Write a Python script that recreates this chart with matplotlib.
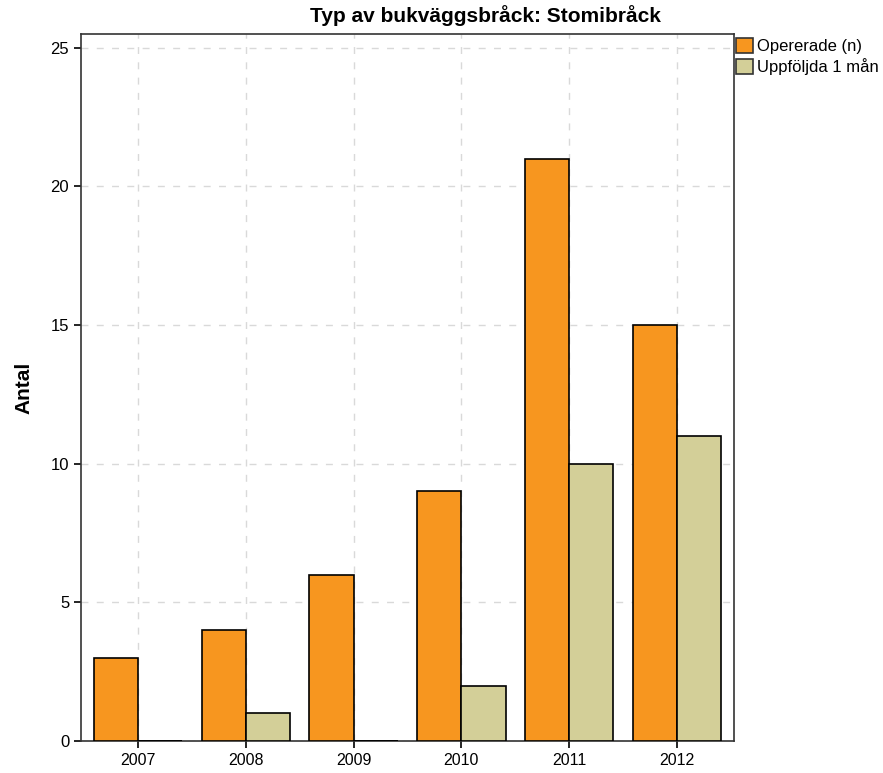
import matplotlib
matplotlib.use("Agg")
import matplotlib.pyplot as plt
import numpy as np
from matplotlib.patches import Patch

plt.rcParams['font.family'] = ['Liberation Sans', 'DejaVu Sans']

years = ['2007', '2008', '2009', '2010', '2011', '2012']
opererade = [3, 4, 6, 9, 21, 15]
uppfoljda = [0, 1, 0, 2, 10, 11]
series_names = ['Opererade (n)', 'Uppföljda 1 mån']
colors = ['#F7961F', '#D3CF98']
yticks = [0, 5, 10, 15, 20, 25]

fig = plt.figure(figsize=(8.83, 7.73), dpi=100)
ax = fig.add_axes([81/883, 1-741/773, (734-81)/883, (741-34)/773])

x = np.arange(len(years))
w = 0.41
ax.bar(x - w/2, opererade, width=w, color=colors[0], edgecolor='black', linewidth=1.2, zorder=3)
ax.bar(x + w/2, uppfoljda, width=w, color=colors[1], edgecolor='black', linewidth=1.2, zorder=3)
# zero-height bars show as a line
for xi, v in zip(x, uppfoljda):
    if v == 0:
        ax.plot([xi, xi + w], [0, 0], color='black', lw=1.2, zorder=4, solid_capstyle='butt')

ax.set_xlim(-0.53, len(years) - 1 + 0.53)
ax.set_ylim(0, 25.5)
ax.set_xticks(x)
ax.set_xticklabels(years, fontsize=11.5)
ax.set_yticks(yticks)
ax.set_yticklabels([str(t) for t in yticks], fontsize=12)
ax.tick_params(axis='both', direction='out', length=5, width=1.2, color='black')
ax.grid(True, color='#D9D9D9', linestyle=(0, (5, 6)), linewidth=1, zorder=0)
ax.set_axisbelow(True)
for s in ax.spines.values():
    s.set_linewidth(1.2)
    s.set_color('#333333')

ax.set_ylabel('Antal', fontsize=15, fontweight='bold', labelpad=12)
fig.text(485/883, 1-16/773, 'Typ av bukväggsbråck: Stomibråck', fontsize=15,
         fontweight='bold', ha='center', va='center')

handles = [Patch(facecolor=c, edgecolor='#333333', linewidth=1.2) for c in colors]
fig.legend(handles, series_names, loc='upper left', bbox_to_anchor=(734/883, 1-36/773),
           frameon=False, fontsize=12, handlelength=1.05, handleheight=1.05,
           handletextpad=0.25, labelspacing=0.25, borderaxespad=0, borderpad=0.1)

fig.savefig('out.png', dpi=100)
